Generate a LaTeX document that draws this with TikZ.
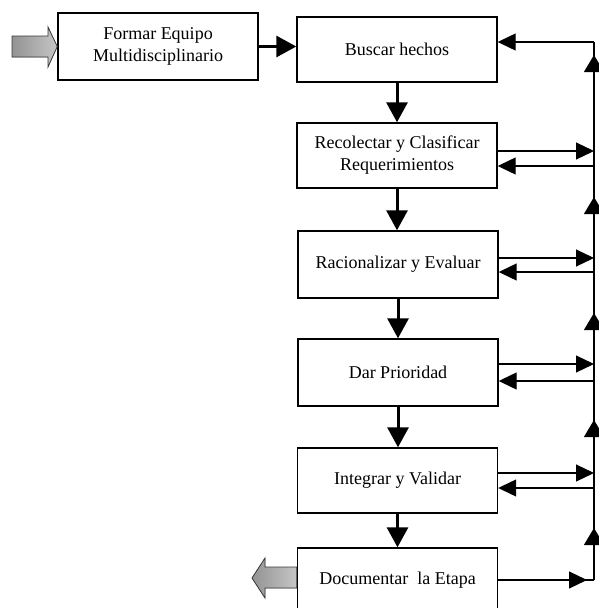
\documentclass[tikz,border=0pt]{standalone}
\usepackage{fontspec}
\setmainfont{Liberation Serif}
\usetikzlibrary{arrows.meta}
\begin{document}
\begin{tikzpicture}[x=1pt,y=-1pt,
  stage/.style={draw, line width=1.4pt, minimum width=200pt, align=center,
    inner sep=0pt, font=\fontsize{18}{22}\selectfont},
  flow/.style={line width=3pt, -{Triangle[length=20pt,width=21pt]}},
  fb/.style={line width=1.2pt, -{Triangle[length=18pt,width=17pt]}},
  uptip/.style={line width=1.2pt, -{Triangle[length=17pt,width=20pt]}},
  bus/.style={line width=1.2pt},
  blockarrow/.style={draw=gray!45!black, line width=0.8pt, left color=gray!85, right color=gray!45}]
\useasboundingbox (0,0) rectangle (599,608);
\clip (0,0) rectangle (599,608);

% process stages
\node[stage, minimum height=67pt] (formar) at (158,46.5) {Formar Equipo\\Multidisciplinario};
\node[stage, minimum height=65pt] (buscar) at (397,49.5) {Buscar hechos};
\node[stage, minimum height=65pt] (recol)  at (397,155.5) {Recolectar y Clasificar\\Requerimientos};
\node[stage, minimum height=67pt] (racio)  at (398,264.5) {Racionalizar y Evaluar};
\node[stage, minimum height=67pt] (dar)    at (398,372.5) {Dar Prioridad};
\node[stage, minimum height=65pt] (integ)  at (397.5,480.5) {Integrar y Validar};
\node[stage, minimum height=64pt] (docum)  at (397.5,580) {Documentar~ la Etapa};

% input and output block arrows
\filldraw[blockarrow] (12,36) -- (48,36) -- (48,27) -- (formar.west) -- (48,67) -- (48,57) -- (12,57) -- cycle;
\filldraw[blockarrow] (docum.west |- 0,567) -- (265,567) -- (265,558) -- (252,578) -- (265,598) -- (265,588) -- (docum.west |- 0,588) -- cycle;

% main flow
\draw[flow] (formar.east) -- (formar.east -| buscar.west);
\draw[flow] (buscar.south) -- (recol.north);
\draw[flow] (recol.south) -- (recol.south |- racio.north);
\draw[flow] (racio.south) -- (dar.north);
\draw[flow] (dar.south) -- (dar.south |- integ.north);
\draw[flow] (integ.south) -- (docum.north);

% feedback bus
\coordinate (bt) at (594,42);
\coordinate (bb) at (594,580);
\draw[bus] (bt) -- (bb);
\draw[bus] (docum.east) -- (bb);
\draw[fb] (docum.east) -- ([xshift=-7pt]bb);
\draw[fb] (bt) -- (bt -| buscar.east);

\draw[fb] (recol.east |- 0,151) -- (bt |- 0,151);
\draw[fb] (bt |- 0,166) -- (recol.east |- 0,166);
\draw[fb] (racio.east |- 0,258) -- (bt |- 0,258);
\draw[fb] (bt |- 0,272) -- (racio.east |- 0,272);
\draw[fb] (dar.east |- 0,364) -- (bt |- 0,364);
\draw[fb] (bt |- 0,381) -- (dar.east |- 0,381);
\draw[fb] (integ.east |- 0,473) -- (bt |- 0,473);
\draw[fb] (bt |- 0,488) -- (integ.east |- 0,488);

% upward direction marks on the bus
\foreach \t in {55,197,313,420,528}
  \draw[uptip] (bt |- 0,\t+18) -- (bt |- 0,\t);
\end{tikzpicture}
\end{document}
